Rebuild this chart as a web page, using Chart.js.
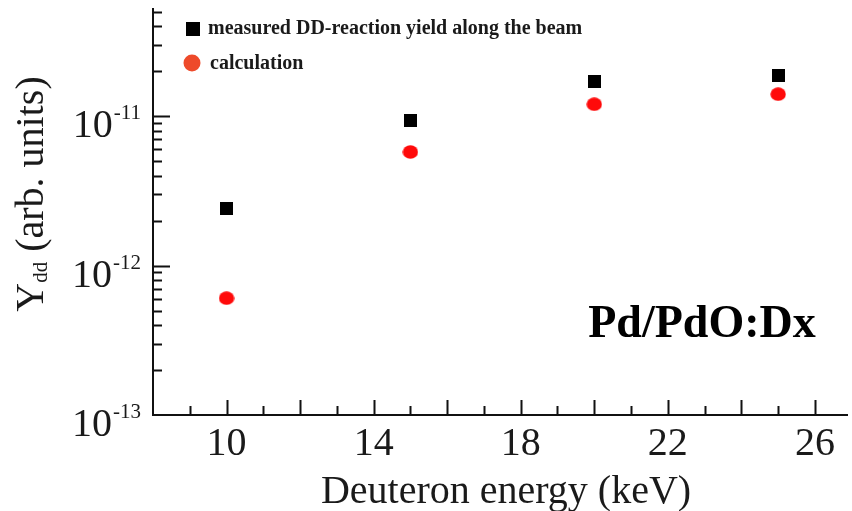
<!DOCTYPE html>
<html>
<head>
<meta charset="utf-8">
<script src="https://cdn.jsdelivr.net/npm/chart.js@4"></script>
<style>
  html, body { margin: 0; padding: 0; background: #ffffff; }
  #wrap { width: 852px; height: 511px; }
</style>
</head>
<body>
<div id="wrap"><canvas id="c" width="852" height="511"></canvas></div>
<script>
// Deuteron beam energies (keV)
const energies = [10, 15, 20, 25];
// DD-reaction yield, arbitrary units
const measuredYield = [2.42e-12, 9.4e-12, 1.69e-11, 1.86e-11];
const calculatedYield = [6.05e-13, 5.75e-12, 1.2e-11, 1.4e-11];
// Axis ticks
const xTickLabels = [10, 14, 18, 22, 26];
const yDecades = [-13, -12, -11];
const seriesNames = ['measured DD-reaction yield along the beam', 'calculation'];
const panelLabel = 'Pd/PdO:Dx';
const xTitle = 'Deuteron energy (keV)';

const SERIF = '"Liberation Serif", "Times New Roman", serif';

// Marker sprites
function squareSprite(side, color) {
  const c = document.createElement('canvas');
  c.width = side; c.height = side;
  const g = c.getContext('2d');
  g.fillStyle = color;
  g.fillRect(0, 0, side, side);
  return c;
}
function ellipseSprite(w, h, color) {
  const c = document.createElement('canvas');
  c.width = w; c.height = h;
  const g = c.getContext('2d');
  g.fillStyle = color;
  g.beginPath();
  g.ellipse(w / 2, h / 2, w / 2 - 0.3, h / 2 - 0.3, 0, 0, Math.PI * 2);
  g.fill();
  return c;
}
const squareMark = squareSprite(13, '#000000');
const dotMark = ellipseSprite(16, 14, '#ff0a0a');

const decorations = {
  id: 'decorations',
  beforeDatasetsDraw(chart) {
    const ctx = chart.ctx;
    const xs = chart.scales.x, ys = chart.scales.y;
    const ca = chart.chartArea;
    ctx.save();
    ctx.strokeStyle = '#111';
    ctx.lineWidth = 2;
    ctx.lineCap = 'butt';
    // axis lines
    ctx.beginPath();
    ctx.moveTo(ca.left, ca.top);
    ctx.lineTo(ca.left, ca.bottom);
    ctx.lineTo(ca.right, ca.bottom);
    ctx.stroke();

    // y tick marks (decades long, minors short)
    ctx.beginPath();
    for (let n = yDecades[0]; n <= yDecades[yDecades.length - 1]; n++) {
      for (let m = 1; m <= 9; m++) {
        const v = m * Math.pow(10, n);
        if (v < ys.min * 0.999 || v > ys.max) continue;
        if (n === yDecades[0] && m === 1) continue;
        const y = Math.round(ys.getPixelForValue(v)) + 0.5;
        const len = m === 1 ? 17 : 9;
        ctx.moveTo(ca.left, y);
        ctx.lineTo(ca.left + len, y);
      }
    }
    ctx.stroke();

    // x tick marks (even long, odd short)
    ctx.beginPath();
    for (let v = Math.ceil(xs.min) + 1; v <= Math.floor(xs.max); v++) {
      const x = Math.round(xs.getPixelForValue(v)) + 0.5;
      const len = v % 2 === 0 ? 15 : 9;
      ctx.moveTo(x, ca.bottom);
      ctx.lineTo(x, ca.bottom - len);
    }
    ctx.stroke();

    ctx.fillStyle = '#1a1a1a';
    // x tick labels
    ctx.font = '40px ' + SERIF;
    ctx.textAlign = 'center';
    ctx.textBaseline = 'alphabetic';
    xTickLabels.forEach(v => {
      ctx.fillText(String(v), xs.getPixelForValue(v), ca.bottom + 40);
    });

    // y tick labels: 10 with superscript exponent
    yDecades.forEach(n => {
      const y = ys.getPixelForValue(Math.pow(10, n));
      const exp = '-' + String(-n);
      ctx.font = '40px ' + SERIF;
      const wBase = ctx.measureText('10').width;
      ctx.font = '21px ' + SERIF;
      const wExp = ctx.measureText(exp).width;
      const right = 141;
      const x0 = right - wExp - wBase - 1;
      ctx.textAlign = 'left';
      ctx.font = '40px ' + SERIF;
      ctx.fillText('10', x0, y + 21);
      ctx.font = '21px ' + SERIF;
      ctx.fillText(exp, x0 + wBase + 1, y + 3);
    });

    // x title
    ctx.font = '40px ' + SERIF;
    ctx.textAlign = 'center';
    ctx.fillText(xTitle, 506, 503);

    // y title, rotated, with subscript
    ctx.save();
    ctx.translate(43, 194);
    ctx.rotate(-Math.PI / 2);
    ctx.font = '40px ' + SERIF;
    const wY = ctx.measureText('Y').width;
    const rest = ' (arb. units)';
    const wRest = ctx.measureText(rest).width;
    ctx.font = '21px ' + SERIF;
    const wSub = ctx.measureText('dd').width;
    const total = wY + wSub + wRest;
    let cx = -total / 2;
    ctx.textAlign = 'left';
    ctx.font = '40px ' + SERIF;
    ctx.fillText('Y', cx, 0);
    cx += wY;
    ctx.font = '21px ' + SERIF;
    ctx.fillText('dd', cx, 4);
    cx += wSub;
    ctx.font = '40px ' + SERIF;
    ctx.fillText(rest, cx, 0);
    ctx.restore();

    // legend
    ctx.fillStyle = '#000';
    ctx.fillRect(186, 22, 14, 14);
    ctx.fillStyle = '#ee4a2a';
    ctx.beginPath();
    ctx.arc(192, 63, 8.5, 0, Math.PI * 2);
    ctx.fill();
    ctx.fillStyle = '#1a1a1a';
    ctx.font = 'bold 20px ' + SERIF;
    ctx.textAlign = 'left';
    ctx.textBaseline = 'middle';
    ctx.fillText(seriesNames[0], 208, 29);
    ctx.fillText(seriesNames[1], 210, 64);

    // panel label
    ctx.fillStyle = '#000';
    ctx.font = 'bold 46px ' + SERIF;
    ctx.textAlign = 'center';
    ctx.textBaseline = 'alphabetic';
    ctx.fillText(panelLabel, 702, 337);
    ctx.restore();
  }
};

new Chart(document.getElementById('c'), {
  type: 'scatter',
  data: {
    datasets: [
      {
        label: seriesNames[0],
        data: energies.map((e, i) => ({ x: e, y: measuredYield[i] })),
        pointStyle: squareMark,
        pointRadius: 7,
        pointHoverRadius: 7,
        backgroundColor: '#000',
        borderColor: '#000'
      },
      {
        label: seriesNames[1],
        data: energies.map((e, i) => ({ x: e, y: calculatedYield[i] })),
        pointStyle: dotMark,
        pointRadius: 8,
        pointHoverRadius: 8,
        backgroundColor: '#ff0a0a',
        borderColor: '#ff0a0a'
      }
    ]
  },
  options: {
    responsive: false,
    animation: false,
    devicePixelRatio: 1,
    layout: { autoPadding: false, padding: { top: 8, right: 4, left: 0, bottom: 0 } },
    plugins: {
      legend: { display: false },
      tooltip: { enabled: false }
    },
    scales: {
      x: {
        type: 'linear',
        min: 8,
        max: 26.9,
        grid: { display: false },
        border: { display: false },
        ticks: { display: false },
        afterFit(scale) { scale.height = 96; }
      },
      y: {
        type: 'logarithmic',
        min: 1e-13,
        max: 5.28e-11,
        grid: { display: false },
        border: { display: false },
        ticks: { display: false },
        afterFit(scale) { scale.width = 153; }
      }
    }
  },
  plugins: [decorations]
});
</script>
</body>
</html>
